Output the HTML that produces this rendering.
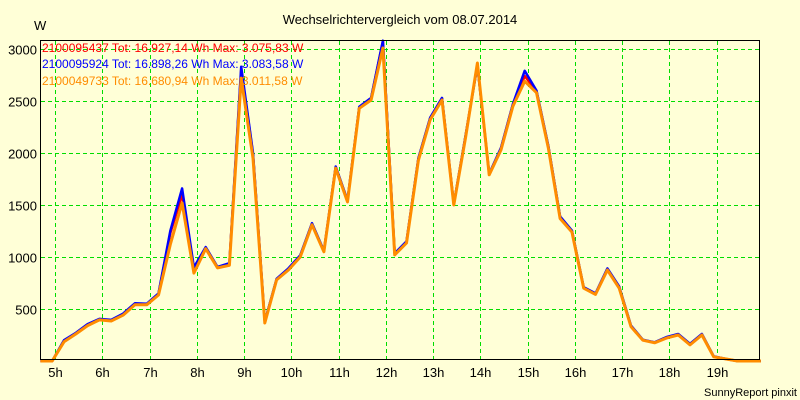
<!DOCTYPE html>
<html><head><meta charset="utf-8"><style>
html,body{margin:0;padding:0;background:#ffffd7;}
svg{display:block;font-family:"Liberation Sans",sans-serif;}
</style></head><body>
<svg id="chart" width="800" height="400">
<rect width="800" height="400" fill="#ffffd7"/>
<text x="400" y="24" text-anchor="middle" font-size="13" fill="#000">Wechselrichtervergleich vom 08.07.2014</text>
<text x="34" y="30" font-size="13" fill="#000">W</text>
<g id="grid"></g>
<g id="series"></g>
<rect x="40.5" y="40.5" width="719" height="319" fill="none" stroke="#000" stroke-width="1"/>
<g id="axes"></g>
<g id="legend">
<text x="42" y="52" font-size="12" fill="#ff0000">2100095437 Tot: 16.927,14 Wh Max: 3.075,83 W</text>
<text x="42" y="68" font-size="12" fill="#0000ff">2100095924 Tot: 16.898,26 Wh Max: 3.083,58 W</text>
<text x="42" y="85" font-size="12" fill="#ff8c00">2100049733 Tot: 16.680,94 Wh Max: 3.011,58 W</text>
</g>
<text x="797" y="396" text-anchor="end" font-size="11" fill="#000">SunnyReport pinxit</text>
</svg>
<script>
const startHour = 4.69;
const stepHours = 0.25;
const orangeValues = [0,0,185,260,340,395,385,440,540,540,635,1120,1520,845,1080,895,920,2720,1950,365,780,875,1000,1310,1050,1855,1530,2430,2510,3010,1020,1135,1930,2320,2510,1500,2150,2865,1790,2030,2450,2690,2580,2050,1370,1240,700,640,875,700,330,200,175,220,250,155,250,40,20,0,0,0];
const blueValues = [0,0,200,270,355,405,395,455,555,550,650,1250,1660,900,1095,905,940,2830,2000,380,790,890,1015,1325,1060,1870,1545,2445,2530,3080,1035,1150,1950,2340,2530,1510,2170,2840,1800,2050,2470,2790,2600,2070,1390,1255,710,650,890,715,340,205,180,230,260,165,260,45,20,0,0,0];
const redValues = [0,0,195,265,350,400,390,450,550,545,645,1230,1600,880,1090,900,935,2800,1990,375,785,885,1010,1320,1055,1865,1540,2440,2525,3075,1030,1145,1945,2335,2525,1505,2165,2850,1795,2045,2465,2740,2595,2065,1385,1250,705,645,885,710,335,200,178,225,255,160,255,42,20,0,0,0];
const yTicks = [500,1000,1500,2000,2500,3000];
const xTickHours = [5,6,7,8,9,10,11,12,13,14,15,16,17,18,19];

const NS = "http://www.w3.org/2000/svg";
function xScale(h){ return 55 + (h - 5) * 47.25; }
function yScale(v){ return 361 - v * 0.104; }
function mk(tag, attrs, parent){
  const e = document.createElementNS(NS, tag);
  for (const k in attrs) e.setAttribute(k, attrs[k]);
  parent.appendChild(e);
  return e;
}
const grid = document.getElementById('grid');
const axes = document.getElementById('axes');
yTicks.forEach(v => {
  const y = Math.round(yScale(v)) + 0.5;
  const l = mk('line', {x1:41, x2:759, y1:y, y2:y, stroke:'#00dd00', 'stroke-dasharray':'4,3'}, grid);
  
  
  const t = mk('text', {x:37, y:y + 5, 'text-anchor':'end', 'font-size':'13', fill:'#000'}, axes);
  t.textContent = v;
  
  
});
xTickHours.forEach(h => {
  const x = Math.round(xScale(h)) + 0.5;
  const l = mk('line', {x1:x, x2:x, y1:41, y2:359, stroke:'#00dd00', 'stroke-dasharray':'4,3'}, grid);
  
  
  const t = mk('text', {x:x, y:377, 'text-anchor':'middle', 'font-size':'13', fill:'#000'}, axes);
  t.textContent = h + 'h';
  
  
});
const seriesG = document.getElementById('series');
function drawSeries(vals, color, width, name){
  const pts = vals.map((v, i) => xScale(startHour + i * stepHours).toFixed(1) + ',' + yScale(v).toFixed(1)).join(' ');
  const p = mk('polyline', {points:pts, fill:'none', stroke:color, 'stroke-width':width, 'stroke-linejoin':'round'}, seriesG);
  
  
}
drawSeries(redValues, '#ff0000', 2.5, 'series-2100095437');
drawSeries(blueValues, '#0000ff', 2.5, 'series-2100095924');
drawSeries(orangeValues, '#ff8c00', 3, 'series-2100049733');
</script>
</body></html>
